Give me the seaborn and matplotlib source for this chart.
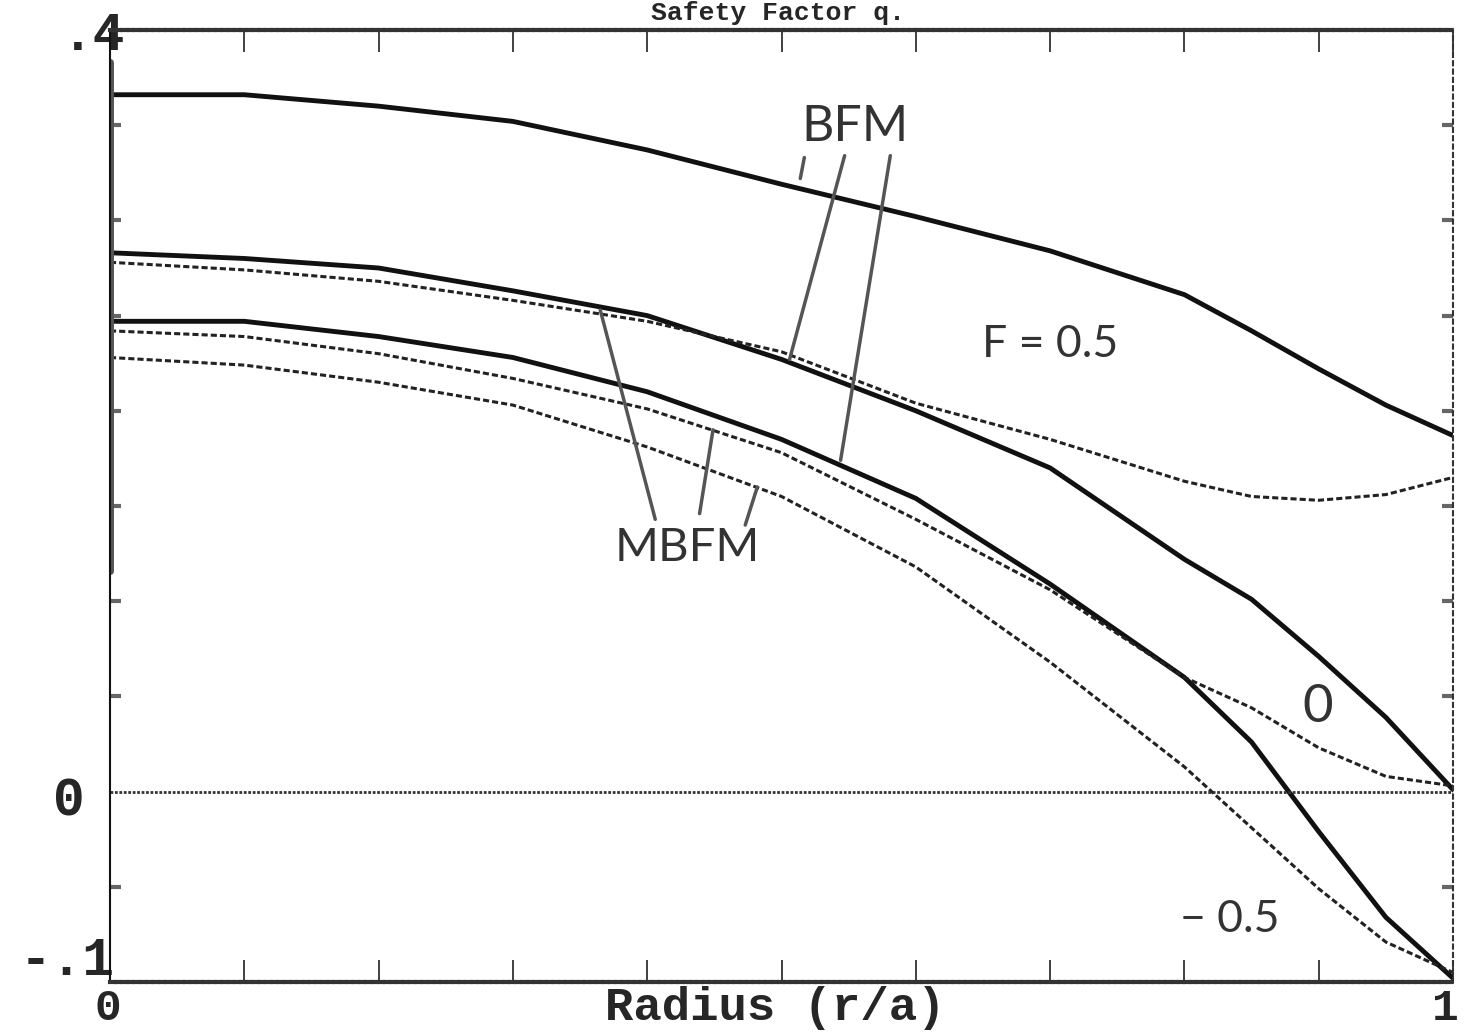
import matplotlib
matplotlib.use("Agg")
import matplotlib.pyplot as plt
import matplotlib.transforms as mtransforms
from matplotlib.ticker import MultipleLocator, NullLocator
import seaborn as sns

# values
radius = [0, 0.1, 0.2, 0.3, 0.4, 0.5, 0.6, 0.7, 0.8, 0.85, 0.9, 0.95, 1.0]

# BFM curves (solid, heavy)
bfm_f05 = [0.366, 0.366, 0.360, 0.352, 0.337, 0.319, 0.302, 0.284, 0.261, 0.242, 0.222, 0.203, 0.187]
bfm_f0 = [0.283, 0.280, 0.275, 0.263, 0.250, 0.227, 0.200, 0.170, 0.122, 0.101, 0.071, 0.039, 0.001]
bfm_fm05 = [0.247, 0.247, 0.239, 0.228, 0.210, 0.185, 0.154, 0.109, 0.060, 0.026, -0.021, -0.066, -0.098]

# MBFM curves (dotted)
mbfm_f05 = [0.278, 0.274, 0.268, 0.258, 0.247, 0.231, 0.204, 0.185, 0.163, 0.155, 0.153, 0.156, 0.165]
mbfm_f0 = [0.242, 0.239, 0.230, 0.217, 0.201, 0.178, 0.143, 0.106, 0.060, 0.044, 0.023, 0.008, 0.003]
mbfm_fm05 = [0.228, 0.224, 0.215, 0.203, 0.181, 0.155, 0.118, 0.068, 0.013, -0.019, -0.051, -0.079, -0.095]

sns.set_theme(style="white")
plt.rcParams["font.family"] = ["Liberation Mono", "DejaVu Sans"]
plt.rcParams["font.weight"] = "bold"
plt.rcParams["axes.labelweight"] = "bold"

fig = plt.figure(figsize=(14.7, 10.35), dpi=100)
ax = fig.add_axes([110 / 1470, 1 - 982 / 1035, 1343 / 1470, 952 / 1035])

for vals in [bfm_f05, bfm_f0, bfm_fm05]:
    sns.lineplot(x=radius, y=vals, ax=ax, color="#111111", lw=3.5)
for vals in [mbfm_f05, mbfm_f0, mbfm_fm05]:
    sns.lineplot(x=radius, y=vals, ax=ax, color="#222222", lw=2.2, linestyle=(0, (2, 1)))

ax.set_xlim(0, 1)
ax.set_ylim(-0.1, 0.4)

# zero line and the heavy smear along the left edge
ax.axhline(0, color="#333333", lw=2, ls=(0, (1, 0.6)))
ax.axvline(0, ymin=0.432, ymax=0.966, color="#555555", lw=5)

# frame
for side in ["top", "bottom"]:
    ax.spines[side].set_linestyle((0, (1, 0.5)))
    ax.spines[side].set_linewidth(3)
    ax.spines[side].set_color("#333333")
ax.spines["left"].set_linewidth(1.5)
ax.spines["left"].set_color("#111111")
ax.spines["right"].set_linestyle((0, (2, 2)))
ax.spines["right"].set_linewidth(1.5)
ax.spines["right"].set_color("#333333")

# ticks
xt = [i / 10 for i in range(11)]
ax.set_xticks(xt, ["0"] + [""] * 9 + ["1"])
ax.tick_params(axis="x", which="major", direction="in", top=True, bottom=True,
               length=16, width=1.3, color="#333333", pad=4, labelsize=32)
ax.xaxis.set_minor_locator(NullLocator())
ax.set_yticks([-0.1, 0, 0.4], ["-.1", "0", ".4"])
ax.tick_params(axis="y", which="major", length=0, pad=0, labelsize=38)
ax.yaxis.set_minor_locator(MultipleLocator(0.05))
ax.tick_params(axis="y", which="minor", direction="in", left=True, right=True,
               length=8, width=3, color="#666666")

# nudge the tick labels to where the plotter put them
shifts_y = [(5, 27), (-25, -4), (15, 0)]
for lbl, (dx, dy) in zip(ax.get_yticklabels(), shifts_y):
    lbl.set_transform(lbl.get_transform() + mtransforms.ScaledTranslation(dx / 100, dy / 100, fig.dpi_scale_trans))
xlbls = ax.get_xticklabels()
xlbls[0].set_transform(xlbls[0].get_transform() + mtransforms.ScaledTranslation(-2 / 100, 0, fig.dpi_scale_trans))
xlbls[-1].set_transform(xlbls[-1].get_transform() + mtransforms.ScaledTranslation(-8 / 100, 0, fig.dpi_scale_trans))

ax.set_xlabel("Radius (r/a)", fontsize=34, fontweight="bold", va="top")
ax.xaxis.set_label_coords(0.495, -0.004)

# title (mostly cut off in the scan); kept small so it stays inside the page
fig.text(0.529, 1 - 1 / 1035, "Safety Factor q.", ha="center", va="top", fontsize=19)

# handwritten labels
hand = dict(family=["Lato", "DejaVu Sans"], weight="normal", color="#333333", ha="center", va="center")
ax.text(0.555, 0.349, "BFM", fontsize=36, **hand)
ax.text(0.430, 0.128, "MBFM", fontsize=34, **hand)
ax.text(0.700, 0.235, "F = 0.5", fontsize=32, **hand)
ax.text(0.899, 0.044, "0", fontsize=38, **hand)
ax.text(0.834, -0.067, "\u2212 0.5", fontsize=32, **hand)

leader = dict(arrowstyle="-", color="#555555", lw=2.5, shrinkA=0, shrinkB=0)
for start, tip in [((0.517, 0.333), (0.514, 0.322)),
                   ((0.547, 0.334), (0.506, 0.227)),
                   ((0.581, 0.334), (0.544, 0.174)),
                   ((0.406, 0.143), (0.365, 0.253)),
                   ((0.439, 0.146), (0.449, 0.190)),
                   ((0.473, 0.140), (0.482, 0.160))]:
    ax.annotate("", xy=tip, xytext=start, arrowprops=leader)

fig.savefig("out.png", dpi=100)
